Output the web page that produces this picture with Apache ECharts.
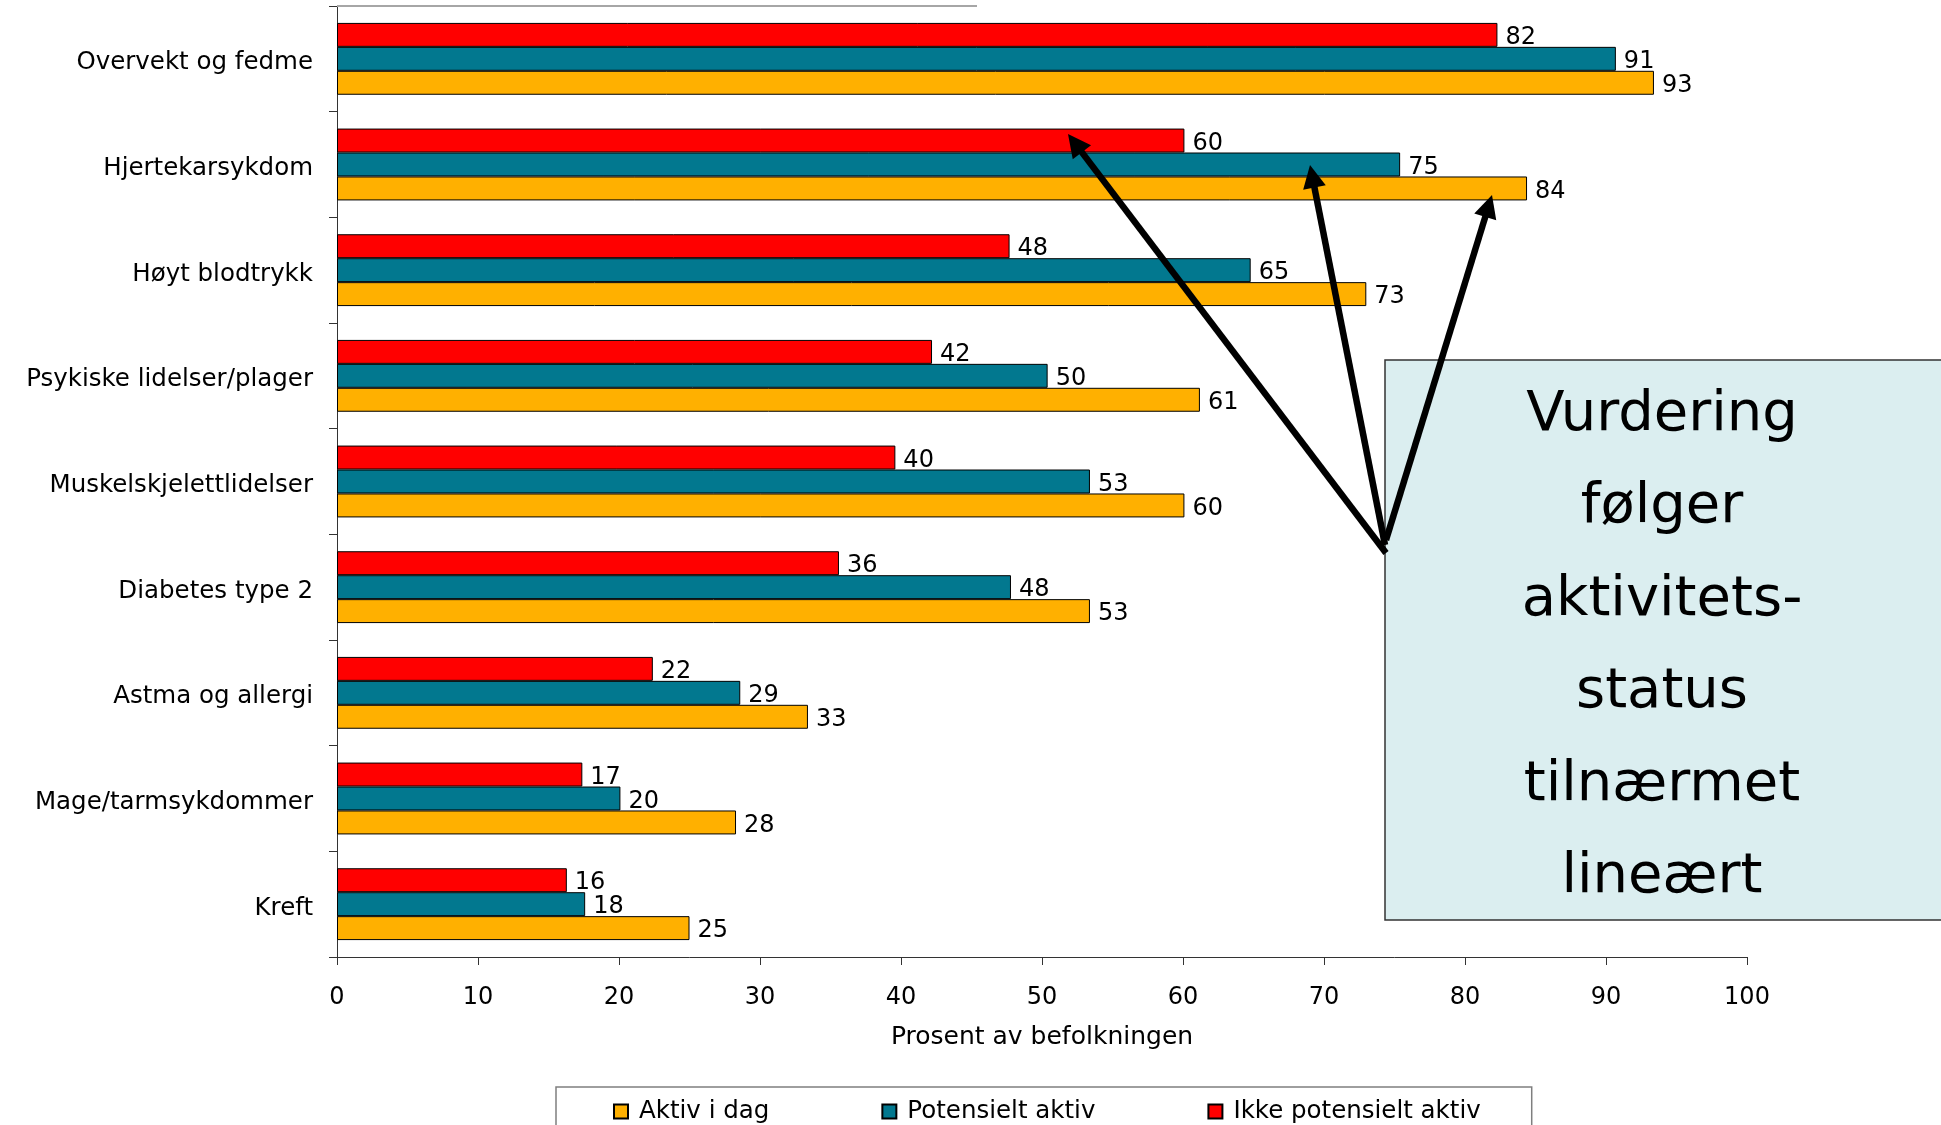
<!DOCTYPE html>
<html>
<head>
<meta charset="utf-8">
<script src="https://cdn.jsdelivr.net/npm/echarts@6/dist/echarts.min.js"></script>
<style>
html,body{margin:0;padding:0;background:#ffffff;}
#c{width:1941px;height:1125px;}
</style>
</head>
<body>
<div id="c"></div>
<script>
// ---- data (bar lengths; labels show rounded values) ----
const categories = [
  'Overvekt og fedme',
  'Hjertekarsykdom',
  'Høyt blodtrykk',
  'Psykiske lidelser/plager',
  'Muskelskjelettlidelser',
  'Diabetes type 2',
  'Astma og allergi',
  'Mage/tarmsykdommer',
  'Kreft'
];
const ikkePotensieltAktiv = [82.3, 60.1, 47.7, 42.2, 39.6, 35.6, 22.4, 17.4, 16.3];
const potensieltAktiv     = [90.7, 75.4, 64.8, 50.4, 53.4, 47.8, 28.6, 20.1, 17.6];
const aktivIDag           = [93.4, 84.4, 73.0, 61.2, 60.1, 53.4, 33.4, 28.3, 25.0];
const legendOrder = ['Aktiv i dag', 'Potensielt aktiv', 'Ikke potensielt aktiv'];
const xMin = 0, xMax = 100, xStep = 10;
const axisTitle = 'Prosent av befolkningen';
const boxLines = ['Vurdering', 'følger', 'aktivitets-', 'status', 'tilnærmet', 'lineært'];

// ---- styling ----
const FONT = 'DejaVu Sans';
const colors = { ikke: '#FF0000', pot: '#02788F', aktiv: '#FFB000' };

function barSeries(name, data, color) {
  return {
    name: name,
    type: 'bar',
    data: data,
    barGap: '0%',
    barCategoryGap: '32%',
    itemStyle: { color: color, borderColor: '#000', borderWidth: 1 },
    label: {
      show: true, position: 'right', distance: 8, offset: [0, 3],
      fontFamily: FONT, fontSize: 24, color: '#000',
      formatter: function (p) { return String(Math.round(p.value)); }
    },
    emphasis: { disabled: true },
    animation: false
  };
}

// arrows (annotation)
function arrow(tail, tip) {
  const dx = tip[0] - tail[0], dy = tip[1] - tail[1];
  const len = Math.sqrt(dx * dx + dy * dy);
  const ux = dx / len, uy = dy / len;
  const px = -uy, py = ux;
  const headLen = 23, headW = 11.5;
  const bx = tip[0] - ux * headLen, by = tip[1] - uy * headLen;
  return [
    { type: 'line', z: 100,
      shape: { x1: tail[0], y1: tail[1], x2: bx + ux * 4, y2: by + uy * 4 },
      style: { stroke: '#000', lineWidth: 6.5 } },
    { type: 'polygon', z: 100,
      shape: { points: [[tip[0], tip[1]], [bx + px * headW, by + py * headW], [bx - px * headW, by - py * headW]] },
      style: { fill: '#000' } }
  ];
}

const graphics = [
  { type: 'line', z: 5, shape: { x1: 337, y1: 6, x2: 977, y2: 6 }, style: { stroke: '#a6a6a6', lineWidth: 2 } },
  { type: 'rect', z: 50, shape: { x: 1385, y: 360, width: 620, height: 560 },
    style: { fill: '#DBEEF0', stroke: '#333', lineWidth: 1.5 } },
  { type: 'text', z: 60, x: 1662, y: 369,
    style: { text: boxLines.join('\n'), fontFamily: FONT, fontSize: 56, lineHeight: 92.5,
             fill: '#000', align: 'center', verticalAlign: 'top' } }
].concat(
  arrow([1386, 553], [1068, 134]),
  arrow([1385, 545], [1310, 165]),
  arrow([1386, 540], [1492, 195])
);

const chart = echarts.init(document.getElementById('c'), null, { renderer: 'canvas' });
chart.setOption({
  animation: false,
  backgroundColor: '#ffffff',
  grid: { left: 337, top: 6, width: 1410, height: 951, containLabel: false },
  xAxis: {
    type: 'value', min: xMin, max: xMax, interval: xStep,
    name: axisTitle, nameLocation: 'middle', nameGap: 68,
    nameTextStyle: { fontFamily: FONT, fontSize: 25, color: '#000' },
    axisLine: { show: true, lineStyle: { color: '#333', width: 1 } },
    axisTick: { show: true, length: 8, lineStyle: { color: '#333' } },
    axisLabel: { margin: 29, fontFamily: FONT, fontSize: 24, color: '#000' },
    splitLine: { show: false }
  },
  yAxis: {
    type: 'category', inverse: true, data: categories,
    axisLine: { show: true, lineStyle: { color: '#333', width: 1 } },
    axisTick: { show: true, length: 8, lineStyle: { color: '#333' } },
    axisLabel: {
      margin: 24, color: '#000',
      formatter: function (v) { return '{c|' + v + '}'; },
      rich: { c: { fontFamily: FONT, fontSize: 24.5, color: '#000', padding: [8, 0, 0, 0] } }
    }
  },
  legend: {
    data: legendOrder,
    left: 556, top: 1087,
    orient: 'horizontal',
    padding: [12, 51, 40, 57],
    borderColor: '#7f7f7f', borderWidth: 1.5,
    itemWidth: 14, itemHeight: 14, itemGap: 112,
    icon: 'rect',
    textStyle: { fontFamily: FONT, fontSize: 24.5, color: '#000', padding: [0, 0, 0, 6] }
  },
  series: [
    barSeries('Ikke potensielt aktiv', ikkePotensieltAktiv, colors.ikke),
    barSeries('Potensielt aktiv', potensieltAktiv, colors.pot),
    barSeries('Aktiv i dag', aktivIDag, colors.aktiv)
  ],
  graphic: graphics
});
</script>
</body>
</html>
